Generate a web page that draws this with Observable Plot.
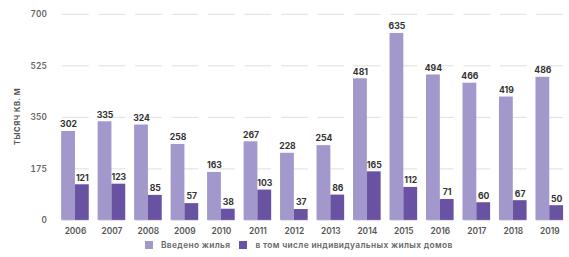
<!DOCTYPE html>
<html><head><meta charset="utf-8">
<script src="https://cdn.jsdelivr.net/npm/d3@7"></script>
<script src="https://cdn.jsdelivr.net/npm/@observablehq/plot@0.6"></script>
<style>
body{margin:0;background:#fff;font-family:Inter,"Noto Sans",sans-serif;overflow:hidden;}
#chart{width:569px;overflow:hidden;}
#legend{display:flex;align-items:center;height:17px;padding-left:145px;font-size:8.4px;color:#666;font-weight:600;letter-spacing:0.35px;}
.sw{width:8px;height:8px;display:inline-block;margin-right:8px;}
</style></head><body>
<div id="chart"></div>
<div id="legend"></div>
<script>
const years = ["2006","2007","2008","2009","2010","2011","2012","2013","2014","2015","2016","2017","2018","2019"];
const total = [302,335,324,258,163,267,228,254,481,635,494,466,419,486];
const individual = [121,123,85,57,38,103,37,86,165,112,71,60,67,50];
const seriesNames = ["Введено жилья","в том числе индивидуальных жилых домов"];
const colors = ["#a398cb","#6952a1"];
const yTicks = [0,175,350,525,700];

const data = [];
years.forEach((y,i)=>{
  data.push({year:y, series:seriesNames[0], value:total[i]});
  data.push({year:y, series:seriesNames[1], value:individual[i]});
});

const chart = Plot.plot({
  width:577, height:240,
  marginLeft:57, marginRight:0, marginTop:14, marginBottom:17,
  style:{fontFamily:"Inter, 'Noto Sans', sans-serif", fontWeight:600, color:"#555"},
  fx:{domain:years, padding:0.24, label:null, axis:null},
  x:{domain:seriesNames, axis:null, padding:0},
  y:{domain:[0,700], ticks:yTicks, label:null},
  color:{domain:seriesNames, range:colors},
  marks:[
    Plot.ruleY(yTicks, {stroke:"#ddd", strokeWidth:1, insetLeft:1}),
    Plot.axisY({ticks:yTicks, tickSize:0, tickPadding:15, fontSize:8.5, label:null, fill:"#666"}),
    Plot.axisFx({anchor:"bottom", tickSize:0, tickPadding:8, fontSize:8.5, fill:"#555", label:null}),
    Plot.barY(data, {fx:"year", x:"series", y:"value", fill:"series"}),
    Plot.text(data, {fx:"year", x:"series", y:"value", text:d=>String(d.value), dy:-7, fill:"#333", fontSize:8.8, fontWeight:700})
  ]
});
const svg = d3.select(chart.tagName === "svg" ? chart : chart.querySelector("svg"));
svg.append("text")
  .attr("transform","translate(20,118) rotate(-90)")
  .attr("text-anchor","middle")
  .attr("font-size","7.6px")
  .attr("font-weight","700")
  .attr("letter-spacing","0.6px")
  .attr("fill","#555")
  .text("ТЫСЯЧ КВ. М");
document.getElementById("chart").appendChild(chart);

const lg = document.getElementById("legend");
seriesNames.forEach((s,i)=>{
  const sw=document.createElement("span"); sw.className="sw"; sw.style.background=colors[i];
  const t=document.createElement("span"); t.textContent=s; t.style.marginRight= i===0? "9px":"0";
  lg.appendChild(sw); lg.appendChild(t);
});
</script>
</body></html>
